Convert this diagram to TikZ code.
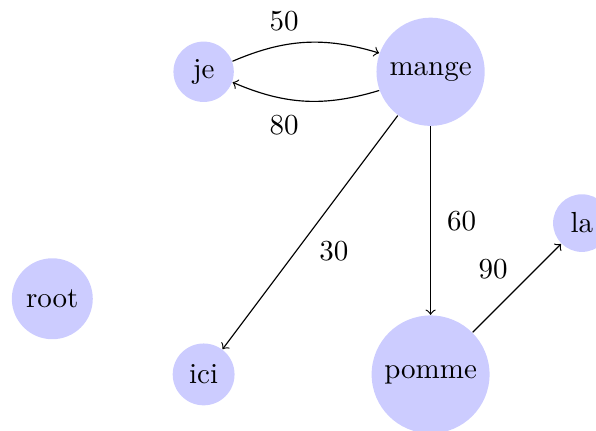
\documentclass[tikz,border=0pt]{standalone}
\usepackage{tikz}

\begin{document}
\begin{tikzpicture}[x=0.917cm,y=0.917cm,
  word/.style={circle,fill=blue!20},
  weight/.style={auto,inner sep=4.5pt}]
\useasboundingbox (-0.634cm,-1.592cm) rectangle (6.590cm,3.621cm);
    % Draw the words
\foreach \name/\xy in {root/{(0,0)},je/{(2,3)},mange/{(5,3)},ici/{(2,-1)},pomme/{(5,-1)},la/{(7,1)}}
  \node[word] (\name) at \xy {\name};
    % Draw the weighted links
\draw[->] (je) to[bend left=20] node[weight,above,pos=0.35] {50} (mange);
\draw[->] (mange) to[bend left=20] node[weight,below,inner sep=5.5pt,pos=0.65] {80} (je);
\foreach \a/\b/\w/\s in {mange/ici/30/3pt,mange/pomme/60/5.5pt,pomme/la/90/3pt}
  \draw[->] (\a) -- node[weight,inner sep=\s] {\w} (\b);
\end{tikzpicture}
\end{document}
